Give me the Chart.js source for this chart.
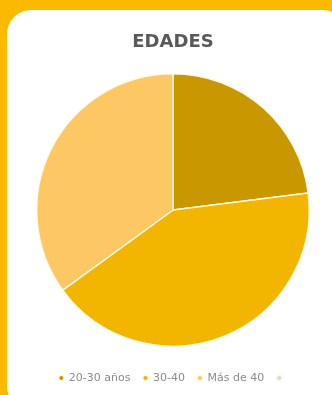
<!DOCTYPE html>
<html>
<head>
<meta charset="utf-8">
<script src="https://cdn.jsdelivr.net/npm/chart.js@4/dist/chart.umd.min.js"></script>
<style>
  html, body { margin:0; padding:0; width:332px; height:395px; overflow:hidden; background:#FBB900; }
  #panel { position:absolute; left:7px; top:10px; width:340px; height:400px; background:#ffffff; border-radius:24px; }
  #wrap { position:absolute; left:0; top:0; width:332px; height:395px; }
</style>
</head>
<body>
<div id="panel"></div>
<div id="wrap"><canvas id="c" width="332" height="395"></canvas></div>
<script>
const categories = ["20-30 años", "30-40", "Más de 40", ""];
const values = [23, 42, 35, 0];
const colors = ["#C99700", "#F2B600", "#FDC864", "#D9D9D9"];
const titleText = "EDADES";

new Chart(document.getElementById('c'), {
  type: 'pie',
  data: {
    labels: categories,
    datasets: [{
      data: values,
      backgroundColor: colors,
      borderColor: '#FFF8E6',
      borderWidth: 1.5
    }]
  },
  options: {
    responsive: false,
    animation: false,
    layout: { padding: { left: 36, right: 22, top: 25, bottom: 1.5 } },
    plugins: {
      title: {
        display: true,
        text: titleText,
        color: '#595959',
        font: { family: 'DejaVu Sans', size: 18, weight: 'bold' },
        padding: { top: 6.2, bottom: 7.7 }
      },
      legend: {
        position: 'bottom',
        labels: {
          usePointStyle: true,
          pointStyle: 'circle',
          boxWidth: 4,
          boxHeight: 4,
          color: '#8C8C8C',
          font: { family: 'DejaVu Sans', size: 11 },
          padding: 13
        }
      },
      tooltip: { enabled: false }
    }
  }
});
</script>
</body>
</html>
